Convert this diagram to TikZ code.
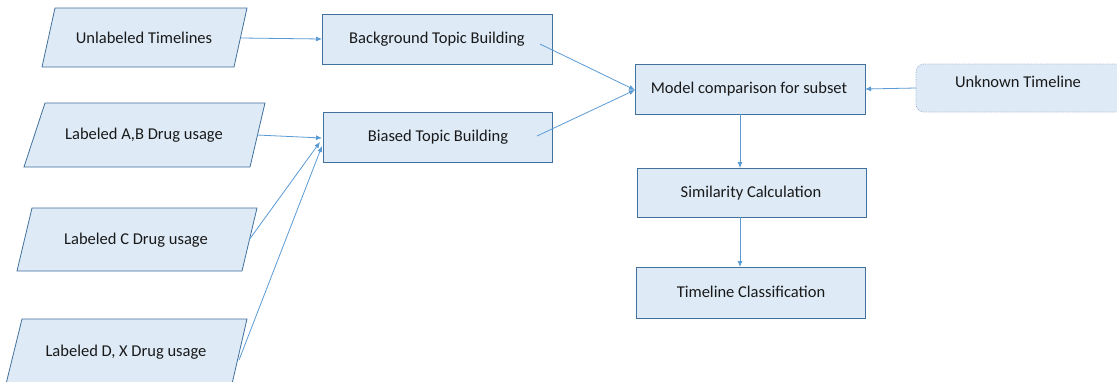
\documentclass[tikz,border=0pt]{standalone}
\usepackage{fontspec}
\setmainfont{Carlito}
\usetikzlibrary{arrows.meta,calc}
\definecolor{boxfill}{HTML}{DEEBF7}
\definecolor{boxline}{HTML}{41719C}
\definecolor{flow}{HTML}{5B9BD5}
\definecolor{softline}{HTML}{9DB3D0}
\tikzset{
  shapebox/.style={fill=boxfill,draw=boxline,line width=0.8pt},
  label/.style={font=\fontsize{16.5}{19}\selectfont,text=black!90,inner sep=0pt},
  flowline/.style={draw=flow,line width=0.8pt,-{Latex[length=6pt,width=5pt]}},
}
\begin{document}
\begin{tikzpicture}[x=1pt,y=-1pt]
\useasboundingbox (0,0) rectangle (1117,381);
\fill[white] (0,0) rectangle (1117,381);

% input data (parallelograms)
\draw[shapebox] (55,8) -- (247,8) -- (234,67) -- (42,67) -- cycle;
\draw[shapebox] (45,103) -- (265,103) -- (250,167) -- (24,167) -- cycle;
\draw[shapebox] (32,208) -- (257,208) -- (242,271) -- (17,271) -- cycle;
\draw[shapebox] (22,319) -- (247,319) -- (232,384) -- (6,384) -- cycle;
\node[label] (unl) at (144,38) {Unlabeled Timelines};
\node[label] (lab) at (144,135) {Labeled A,B Drug usage};
\node[label] (labc) at (136,240) {Labeled C Drug usage};
\node[label] (labd) at (126,352) {Labeled D, X Drug usage};
\coordinate (unlR) at (241,38);
\coordinate (labR) at (257,135);
\coordinate (labcR) at (249,240);
\coordinate (labdR) at (239,360);

% processing steps
\draw[shapebox] (322,14) rectangle (552,64);
\node[label] (bg) at (437,39) {Background Topic Building};
\draw[shapebox] (323,112) rectangle (552,162);
\node[label] (bias) at (438,137) {Biased Topic Building};
\draw[shapebox] (635,64) rectangle (865,114);
\node[label] (cmp) at (749,89) {Model comparison for subset};
\draw[shapebox] (637,168) rectangle (866,217);
\node[label] (sim) at (751,193) {Similarity Calculation};
\draw[shapebox] (636,267) rectangle (865,318);
\node[label] (cls) at (751,292) {Timeline Classification};
\draw[fill=boxfill,draw=softline,densely dotted,rounded corners=8pt,line width=0.8pt] (916,64) rectangle (1135,112);
\node[label] (unk) at (1018,82) {Unknown Timeline};

\coordinate (bgIn) at (322,39);
\coordinate (biasIn) at (322,138);
\coordinate (biasIn2) at (320,142);
\coordinate (biasIn3) at (322,146);
\coordinate (bgOut) at (540,44);
\coordinate (biasOut) at (537,136);
\coordinate (cmpIn) at (635,90);
\coordinate (cmpR) at (865,89);
\coordinate (unkL) at (916,88);
\coordinate (cmpB) at (740,114);
\coordinate (simT) at (740,168);
\coordinate (simB) at (740,217);
\coordinate (clsT) at (740,267);

% connectors
\draw[flowline] (unlR) -- (bgIn);
\draw[flowline] (labR) -- (biasIn);
\draw[flowline] (labcR) -- (biasIn2);
\draw[flowline] (labdR) -- (biasIn3);
\draw[flowline] (bgOut) -- (cmpIn);
\draw[flowline] (biasOut) -- (cmpIn);
\draw[flowline] (unkL) -- (cmpR);
\draw[flowline] (cmpB) -- (simT);
\draw[flowline] (simB) -- (clsT);
\end{tikzpicture}
\end{document}
